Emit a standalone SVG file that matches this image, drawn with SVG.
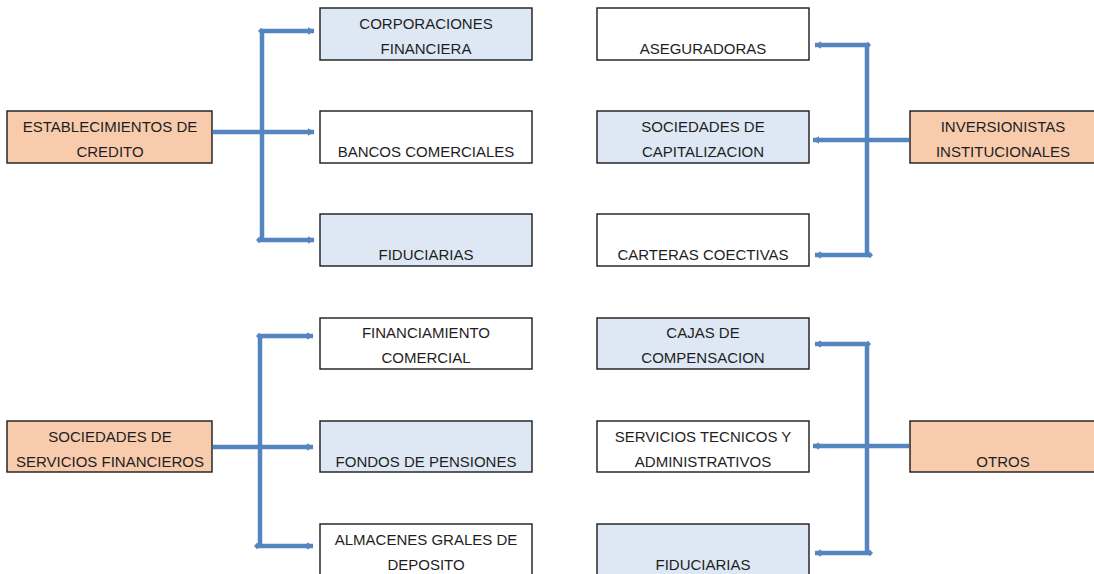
<svg xmlns="http://www.w3.org/2000/svg" width="1094" height="574" viewBox="0 0 1094 574">
<style>
  .box { stroke: #1a1a1a; stroke-width: 1.4; }
  .blue { fill: #dde8f4; }
  .white { fill: #ffffff; }
  .orange { fill: #f8cbad; }
  text { font-family: "Liberation Sans", Arial, sans-serif; font-size: 15px; fill: #1e1e1e; text-anchor: middle; }
  .conn { stroke: #5585bf; stroke-width: 4.5; fill: none; }
</style>
<defs>
  <marker id="arr" markerUnits="userSpaceOnUse" markerWidth="10" markerHeight="10" refX="7" refY="5" orient="auto">
    <path d="M1,1.2 L7.5,5 L1,8.8 Z" fill="#5585bf"/>
  </marker>
  <marker id="tail" markerUnits="userSpaceOnUse" markerWidth="10" markerHeight="10" refX="5" refY="5" orient="auto">
    <path d="M2,5 L5,1.8 L8,5 L5,8.2 Z" fill="#5585bf"/>
  </marker>
</defs>
<rect width="1094" height="574" fill="#ffffff"/>

<g id="connectors">
  <!-- top-left -->
  <path class="conn" d="M262,31 V240"/>
  <path class="conn" d="M213,132 H314" marker-end="url(#arr)"/>
  <path class="conn" d="M261,31 H314" marker-start="url(#tail)" marker-end="url(#arr)"/>
  <path class="conn" d="M259,240 H314" marker-start="url(#tail)" marker-end="url(#arr)"/>
  <!-- top-right -->
  <path class="conn" d="M867,45 V255"/>
  <path class="conn" d="M909,140 H813" marker-end="url(#arr)"/>
  <path class="conn" d="M868,45 H815" marker-start="url(#tail)" marker-end="url(#arr)"/>
  <path class="conn" d="M870,255 H815" marker-start="url(#tail)" marker-end="url(#arr)"/>
  <!-- bottom-left -->
  <path class="conn" d="M260,336 V546"/>
  <path class="conn" d="M213,447 H313" marker-end="url(#arr)"/>
  <path class="conn" d="M259,336 H313" marker-start="url(#tail)" marker-end="url(#arr)"/>
  <path class="conn" d="M257,546 H313" marker-start="url(#tail)" marker-end="url(#arr)"/>
  <!-- bottom-right -->
  <path class="conn" d="M867,344 V553"/>
  <path class="conn" d="M909,446 H813" marker-end="url(#arr)"/>
  <path class="conn" d="M868,344 H815" marker-start="url(#tail)" marker-end="url(#arr)"/>
  <path class="conn" d="M870,553 H815" marker-start="url(#tail)" marker-end="url(#arr)"/>
</g>

<g id="establecimientos">
  <rect class="box orange" x="7" y="111" width="205" height="52"/>
  <text x="110" y="132">ESTABLECIMIENTOS DE</text>
  <text x="110" y="157">CREDITO</text>
</g>
<g id="corporaciones">
  <rect class="box blue" x="320" y="8" width="212" height="52"/>
  <text x="426" y="29">CORPORACIONES</text>
  <text x="426" y="54">FINANCIERA</text>
</g>
<g id="bancos">
  <rect class="box white" x="320" y="111" width="212" height="52"/>
  <text x="426" y="157">BANCOS COMERCIALES</text>
</g>
<g id="fiduciarias1">
  <rect class="box blue" x="320" y="214" width="212" height="52"/>
  <text x="426" y="260">FIDUCIARIAS</text>
</g>
<g id="aseguradoras">
  <rect class="box white" x="597" y="8" width="212" height="52"/>
  <text x="703" y="54">ASEGURADORAS</text>
</g>
<g id="capitalizacion">
  <rect class="box blue" x="597" y="111" width="212" height="52"/>
  <text x="703" y="132">SOCIEDADES DE</text>
  <text x="703" y="157">CAPITALIZACION</text>
</g>
<g id="carteras">
  <rect class="box white" x="597" y="214" width="212" height="52"/>
  <text x="703" y="260">CARTERAS COECTIVAS</text>
</g>
<g id="inversionistas">
  <rect class="box orange" x="910" y="111" width="190" height="52"/>
  <text x="1003" y="132">INVERSIONISTAS</text>
  <text x="1003" y="157">INSTITUCIONALES</text>
</g>

<g id="sociedades-servicios">
  <rect class="box orange" x="7" y="421" width="205" height="51"/>
  <text x="110" y="442">SOCIEDADES DE</text>
  <text x="110" y="467">SERVICIOS FINANCIEROS</text>
</g>
<g id="financiamiento">
  <rect class="box white" x="320" y="318" width="212" height="51"/>
  <text x="426" y="338">FINANCIAMIENTO</text>
  <text x="426" y="363">COMERCIAL</text>
</g>
<g id="fondos">
  <rect class="box blue" x="320" y="421" width="212" height="51"/>
  <text x="426" y="467">FONDOS DE PENSIONES</text>
</g>
<g id="almacenes">
  <rect class="box white" x="320" y="524" width="212" height="60"/>
  <text x="426" y="545">ALMACENES GRALES DE</text>
  <text x="426" y="570">DEPOSITO</text>
</g>
<g id="cajas">
  <rect class="box blue" x="597" y="318" width="212" height="51"/>
  <text x="703" y="338">CAJAS DE</text>
  <text x="703" y="363">COMPENSACION</text>
</g>
<g id="servicios-tecnicos">
  <rect class="box white" x="597" y="421" width="212" height="51"/>
  <text x="703" y="442">SERVICIOS TECNICOS Y</text>
  <text x="703" y="467">ADMINISTRATIVOS</text>
</g>
<g id="fiduciarias2">
  <rect class="box blue" x="597" y="524" width="212" height="60"/>
  <text x="703" y="570">FIDUCIARIAS</text>
</g>
<g id="otros">
  <rect class="box orange" x="910" y="421" width="190" height="51"/>
  <text x="1003" y="467">OTROS</text>
</g>
</svg>
